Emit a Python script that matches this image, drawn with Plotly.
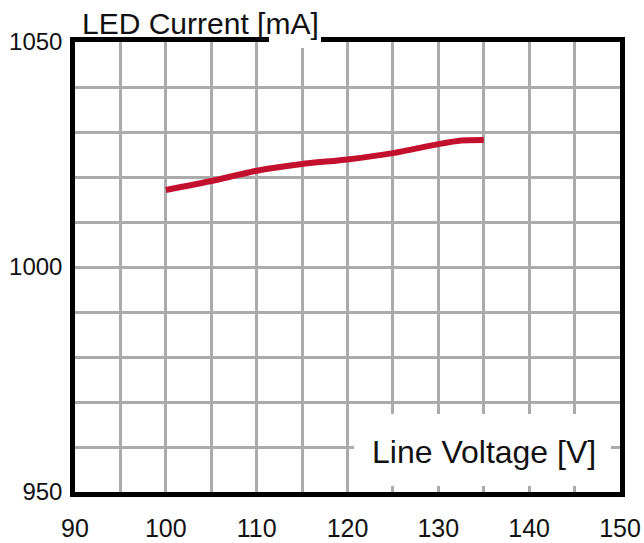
import plotly.graph_objects as go

# Data
line_voltage = [100, 105, 110, 115, 120, 125, 130, 132.5, 135]
led_current = [1017.1, 1019.1, 1021.4, 1022.9, 1023.9, 1025.3, 1027.3, 1028.1, 1028.2]

x_ticks = [90, 100, 110, 120, 130, 140, 150]
y_ticks = [950, 1000, 1050]

FONT = "Liberation Sans, Arial, sans-serif"
GRID = "#ababab"

fig = go.Figure()
fig.add_trace(go.Scatter(
    x=line_voltage, y=led_current, mode="lines",
    line=dict(color="#c3102f", width=6, shape="spline", smoothing=0.6),
    showlegend=False, hoverinfo="skip",
))

fig.update_layout(
    width=644, height=543,
    margin=dict(l=75, r=24, t=42, b=51, autoexpand=False),
    paper_bgcolor="white", plot_bgcolor="white",
    font=dict(family=FONT, color="#111111", size=24),
)

fig.update_xaxes(
    range=[90, 150], tickvals=x_ticks, ticktext=[str(v) for v in x_ticks],
    showgrid=True, gridcolor=GRID, gridwidth=2.5,
    minor=dict(dtick=5, tick0=90, showgrid=True, gridcolor=GRID, gridwidth=2.5),
    showline=True, linecolor="black", linewidth=4.5, mirror=True,
    ticks="", zeroline=False, ticklabelstandoff=10, automargin=False,
    tickfont=dict(size=25, family=FONT, color="#111111"),
)
fig.update_yaxes(
    range=[950, 1050], tickvals=y_ticks, ticktext=[str(v) for v in y_ticks],
    showgrid=True, gridcolor=GRID, gridwidth=2.5,
    minor=dict(dtick=10, tick0=950, showgrid=True, gridcolor=GRID, gridwidth=2.5),
    showline=True, linecolor="black", linewidth=4.5, mirror=True,
    ticks="", zeroline=False, ticklabelstandoff=3, automargin=False,
    tickfont=dict(size=24, family=FONT, color="#111111"),
)

# white box behind x-axis title
fig.add_annotation(text=" ", xref="paper", yref="paper",
                   x=0.748, y=0.0933, xanchor="center", yanchor="middle",
                   width=255, height=70, bgcolor="white", borderwidth=0,
                   showarrow=False)

fig.add_annotation(text="Line Voltage [V]", xref="paper", yref="paper",
                   x=0.541, y=0.09, xanchor="left", yanchor="middle",
                   showarrow=False, font=dict(size=32, family=FONT, color="#111111"))

# small white gap in the top frame under "mA"
fig.add_annotation(text=" ", xref="paper", yref="paper",
                   x=(295 - 75) / 545, y=1.0, xanchor="center", yanchor="middle",
                   width=50, height=10, bgcolor="white", borderwidth=0,
                   showarrow=False)

fig.add_annotation(text="LED Current [mA]", xref="paper", yref="paper",
                   x=0.009, y=1.0, xanchor="left", yanchor="bottom", yshift=0,
                   showarrow=False, font=dict(size=30, family=FONT, color="#111111"))

fig.write_html("out.html", config={"displayModeBar": False},
               post_script="document.body.style.margin='0';")
